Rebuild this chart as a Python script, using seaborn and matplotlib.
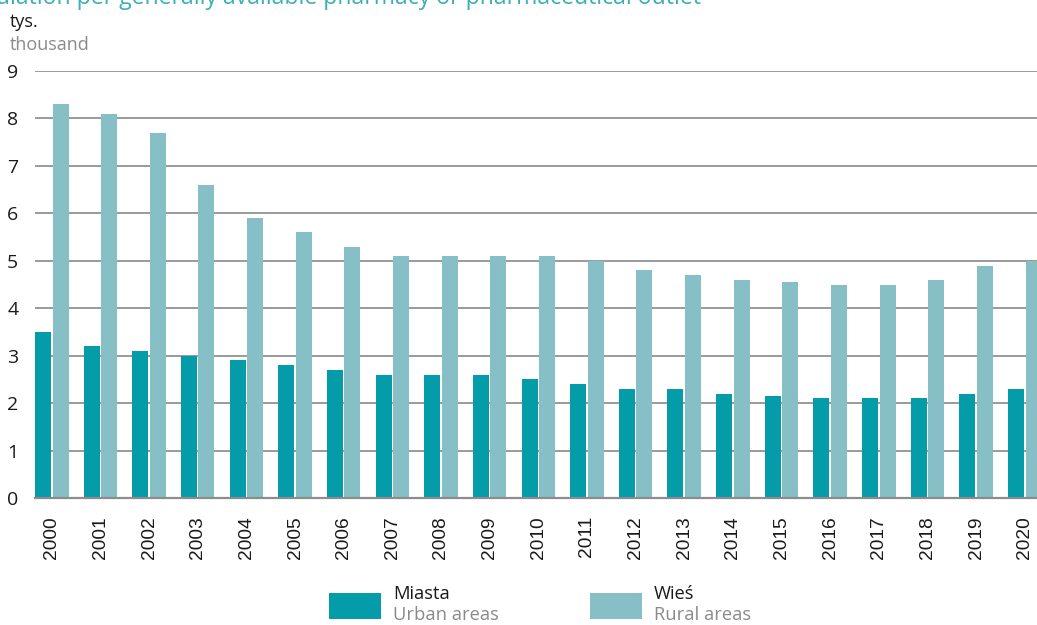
import matplotlib
matplotlib.use("Agg")
import matplotlib.pyplot as plt
import matplotlib.patches as mpatches
import pandas as pd
import seaborn as sns

years = [str(y) for y in range(2000, 2021)]
urban = [3.5, 3.2, 3.1, 3.0, 2.9, 2.8, 2.7, 2.6, 2.6, 2.6, 2.5,
         2.4, 2.3, 2.3, 2.2, 2.15, 2.1, 2.1, 2.1, 2.2, 2.3]
rural = [8.3, 8.1, 7.7, 6.6, 5.9, 5.6, 5.3, 5.1, 5.1, 5.1, 5.1,
         5.0, 4.8, 4.7, 4.6, 4.55, 4.5, 4.5, 4.6, 4.9, 5.0]
series = ["Miasta", "Wieś"]
series_en = ["Urban areas", "Rural areas"]
colors = ["#039CA8", "#86BFC5"]
y_ticks = list(range(0, 10))

df = pd.DataFrame({
    "year": years * 2,
    "area": [series[0]] * len(years) + [series[1]] * len(years),
    "value": urban + rural,
})

sns.set_theme(style="white")
plt.rcParams["font.family"] = ["Open Sans", "DejaVu Sans"]

W, H = 1037, 625
fig = plt.figure(figsize=(W / 100, H / 100), dpi=100)
ax_left, ax_right = 35, 1037
ax_top, ax_bottom = 71, 498
ax = fig.add_axes([ax_left / W, (H - ax_bottom) / H,
                   (ax_right - ax_left) / W, (ax_bottom - ax_top) / H])

sns.barplot(data=df, x="year", y="value", hue="area", palette=colors,
            width=0.72, gap=0.086, saturation=1, linewidth=0,
            ax=ax, legend=False, zorder=3)

px_per_cat = 48.65
x0 = -0.345
ax.set_xlim(x0, x0 + (ax_right - ax_left) / px_per_cat)
ax.set_ylim(0, 9)
ax.set_yticks(y_ticks)
ax.set_yticklabels([str(t) for t in y_ticks])
ax.set_xlabel("")
ax.set_ylabel("")
ax.grid(axis="y", color="#9a9a9a", linewidth=1.4, zorder=0)
ax.grid(axis="x", visible=False)
for side in ["left", "right", "top"]:
    ax.spines[side].set_visible(False)
ax.spines["bottom"].set_color("#8c8c8c")
ax.spines["bottom"].set_linewidth(1.6)
ax.spines["bottom"].set_zorder(4)
ax.tick_params(axis="y", length=0, pad=12, labelsize=14, labelcolor="#1a1a1a")
ax.tick_params(axis="x", length=0, pad=13, labelcolor="#1a1a1a", rotation=90)
for lbl in ax.get_xticklabels():
    lbl.set_family(["Liberation Sans", "DejaVu Sans"])
    lbl.set_fontsize(13.8)

# Title line and unit labels
fig.text(701 / W, 1 - 4 / H,
         "Population per generally available pharmacy or pharmaceutical outlet",
         ha="right", va="baseline", fontsize=16.6, color="#3AAFB6")
fig.text(10 / W, 1 - 27 / H, "tys.", ha="left", va="baseline",
         fontsize=13, color="#1a1a1a")
fig.text(10 / W, 1 - 50 / H, "thousand", ha="left", va="baseline",
         fontsize=13, color="#8a8a8a")

# Legend
legend_items = [(329, series[0], series_en[0], colors[0]),
                (590, series[1], series_en[1], colors[1])]
for x, pl, en, c in legend_items:
    fig.add_artist(mpatches.Rectangle((x / W, 1 - 619 / H), 52 / W, 26 / H,
                                      transform=fig.transFigure,
                                      facecolor=c, edgecolor="none"))
    fig.text((x + 64) / W, 1 - 599 / H, pl, ha="left", va="baseline",
             fontsize=13.2, color="#1a1a1a")
    fig.text((x + 64) / W, 1 - 620 / H, en, ha="left", va="baseline",
             fontsize=13.2, color="#8a8a8a")

fig.savefig("out.png", dpi=100)
